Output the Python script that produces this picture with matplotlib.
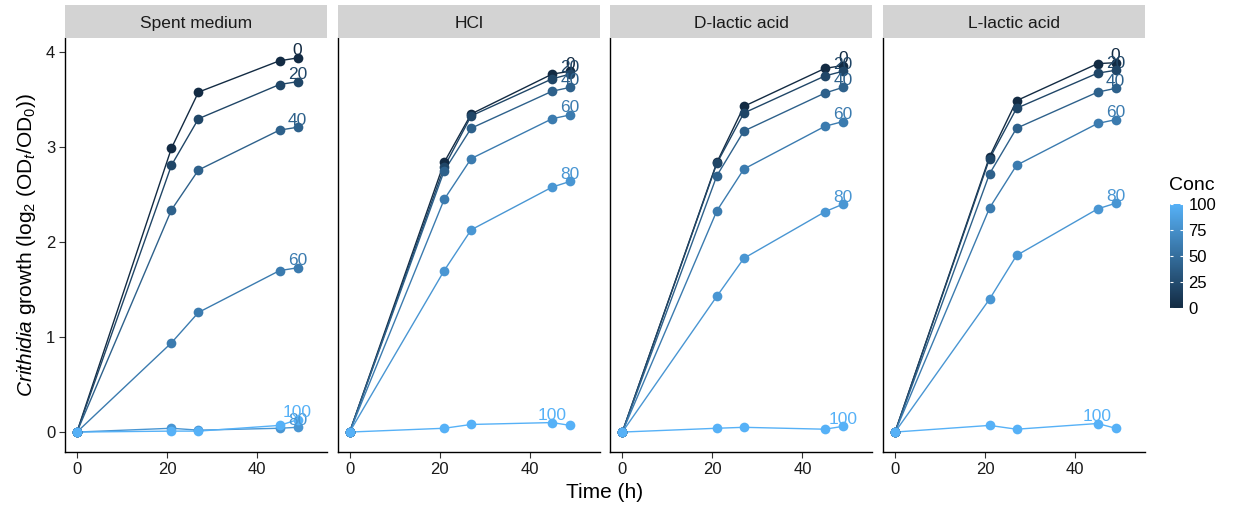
import numpy as np
import matplotlib
matplotlib.use("Agg")
import matplotlib.pyplot as plt
from matplotlib.colors import LinearSegmentedColormap, Normalize
from matplotlib.colorbar import ColorbarBase

plt.rcParams['font.family'] = ['Liberation Sans', 'DejaVu Sans']
plt.rcParams['mathtext.fontset'] = 'custom'
plt.rcParams['mathtext.rm'] = 'Liberation Sans'
plt.rcParams['mathtext.it'] = 'Liberation Sans:italic'

# data
times = [0, 21, 27, 45, 49]
concs = [0, 20, 40, 60, 80, 100]
panels = ['Spent medium', 'HCl', 'D-lactic acid', 'L-lactic acid']

# one row per concentration (0, 20, 40, 60, 80, 100)
spent_medium = [[0, 2.99, 3.58, 3.91, 3.94],
                [0, 2.81, 3.30, 3.66, 3.69],
                [0, 2.34, 2.76, 3.18, 3.21],
                [0, 0.94, 1.26, 1.70, 1.73],
                [0, 0.04, 0.02, 0.04, 0.05],
                [0, 0.01, 0.01, 0.07, 0.13]]
hcl = [[0, 2.84, 3.35, 3.77, 3.80],
       [0, 2.79, 3.33, 3.72, 3.77],
       [0, 2.75, 3.20, 3.59, 3.63],
       [0, 2.45, 2.88, 3.30, 3.34],
       [0, 1.70, 2.13, 2.58, 2.64],
       [0, 0.04, 0.08, 0.10, 0.07]]
d_lactic = [[0, 2.84, 3.43, 3.83, 3.86],
            [0, 2.83, 3.36, 3.75, 3.80],
            [0, 2.70, 3.17, 3.57, 3.63],
            [0, 2.33, 2.77, 3.22, 3.27],
            [0, 1.43, 1.83, 2.32, 2.40],
            [0, 0.04, 0.05, 0.03, 0.06]]
l_lactic = [[0, 2.90, 3.49, 3.88, 3.89],
            [0, 2.88, 3.41, 3.78, 3.81],
            [0, 2.72, 3.20, 3.58, 3.62],
            [0, 2.36, 2.81, 3.25, 3.29],
            [0, 1.40, 1.86, 2.35, 2.41],
            [0, 0.07, 0.03, 0.09, 0.04]]
panel_data = [spent_medium, hcl, d_lactic, l_lactic]

cmap = LinearSegmentedColormap.from_list('gg', ['#132B43', '#56B1F7'])
norm = Normalize(0, 100)

W, H = 1234, 507
fig = plt.figure(figsize=(W / 100, H / 100), dpi=100)

pw, gap = 262, 10.7
left0, bottom_px, top_px = 65, 452, 38
for i, (name, data) in enumerate(zip(panels, panel_data)):
    lx = left0 + i * (pw + gap)
    ax = fig.add_axes([lx / W, (H - bottom_px) / H, pw / W, (bottom_px - top_px) / H])
    # strip
    sx = fig.add_axes([lx / W, (H - top_px) / H, pw / W, 33 / H])
    sx.set_facecolor('#d3d3d3')
    sx.set_xticks([]); sx.set_yticks([])
    for s in sx.spines.values():
        s.set_visible(False)
    sx.text(0.5, 0.45, name, ha='center', va='center', fontsize=12.5, color='#1a1a1a',
            transform=sx.transAxes)

    for c, vals in zip(concs, data):
        ax.plot(times, vals, color=cmap(norm(c)), lw=1.0, zorder=2)
    for c, vals in zip(concs, data):
        ax.plot(times, vals, 'o', color=cmap(norm(c)), ms=7, mec='none', zorder=3)
    for c, vals in zip(concs, data):
        k = int(np.argmax(vals))
        ax.annotate(str(c), (times[k], vals[k]), xytext=(0, 5), textcoords='offset points',
                    ha='center', va='center', fontsize=12.5, color=cmap(norm(c)), zorder=4)

    ax.set_xlim(-2.65, 55.55)
    ax.set_ylim(-0.21, 4.15)
    ax.set_xticks([0, 20, 40])
    ax.set_yticks([0, 1, 2, 3, 4])
    for s in ['top', 'right']:
        ax.spines[s].set_visible(False)
    for s in ['left', 'bottom']:
        ax.spines[s].set_linewidth(1.0)
    ax.tick_params(length=4, width=0.8, color='#333333', labelsize=12,
                   labelcolor='#1a1a1a', pad=3)
    if i > 0:
        ax.tick_params(axis='y', left=False, labelleft=False)
    if i == 0:
        ax.set_ylabel(r'$\it{Crithidia}$ growth (log$_2$ (OD$_t$/OD$_0$))', fontsize=15,
                      labelpad=6)

fig.text((left0 + (4 * pw + 3 * gap) / 2) / W, 1 - 493 / H, 'Time (h)', ha='center',
         va='center', fontsize=15)

# colourbar
cax = fig.add_axes([1170 / W, (H - 308) / H, 13 / W, 104 / H])
cb = ColorbarBase(cax, cmap=cmap, norm=norm, ticks=[0, 25, 50, 75, 100])
cb.outline.set_visible(False)
cax.tick_params(axis='y', which='both', direction='in', color='white', length=2.5,
                width=0.8, labelsize=12, pad=4, left=True, right=True)
cax.set_title('Conc', fontsize=14, loc='left', pad=10, x=-0.1)

plt.savefig('out.png', dpi=100)
